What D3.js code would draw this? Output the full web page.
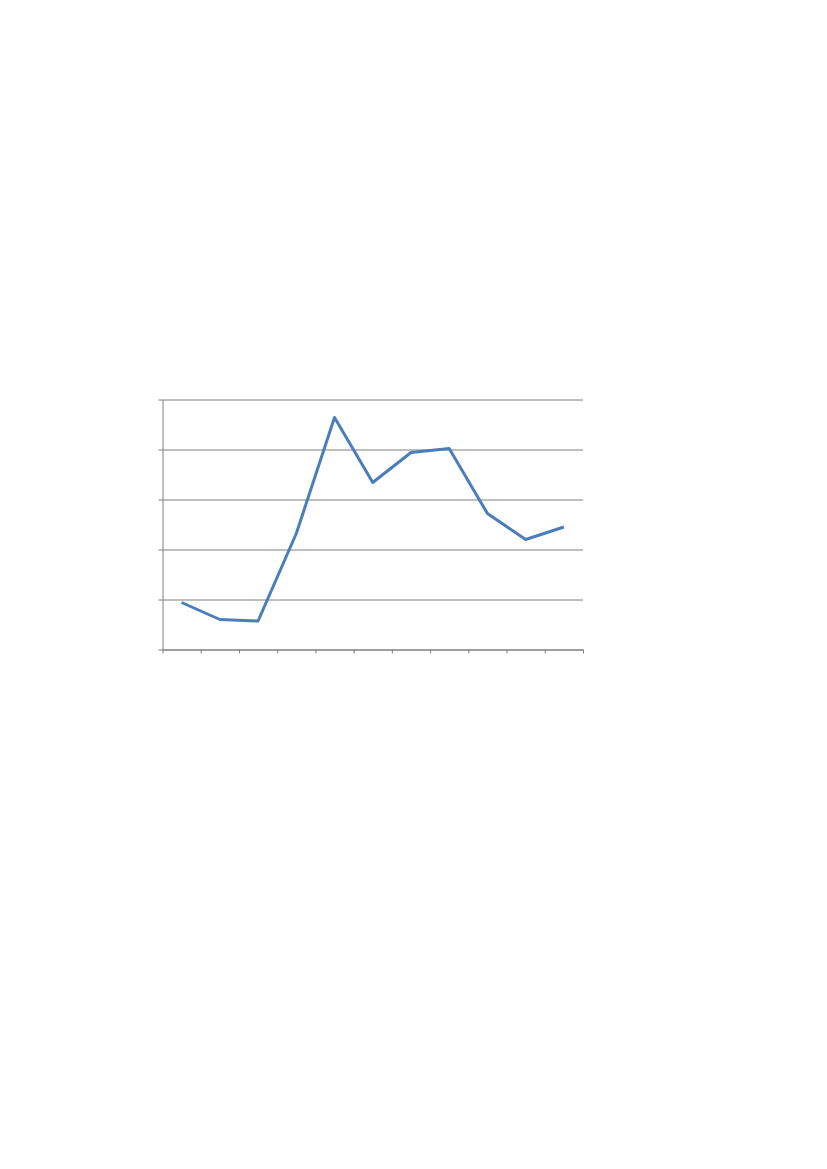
<!DOCTYPE html>
<html>
<head>
<meta charset="utf-8">
<script src="https://cdn.jsdelivr.net/npm/d3@7"></script>
<style>
  body { margin: 0; background: #fff; }
  svg { display: block; }
</style>
</head>
<body>
<div id="chart"></div>
<script>
// series, one point per category (no labels shown on the chart)
var categories = [1, 2, 3, 4, 5, 6, 7, 8, 9, 10, 11];
var values = [0.94, 0.60, 0.57, 2.32, 4.64, 3.34, 3.94, 4.02, 2.72, 2.20, 2.45];
var yTicks = [0, 1, 2, 3, 4, 5];

// note: "top" is window.top in a browser, so use plot* names
var pageW = 827, pageH = 1169,
    plotLeft = 162.5, plotTop = 399.5,
    plotW = 420.5, plotH = 250;

var svg = d3.select("#chart").append("svg")
    .attr("width", pageW)
    .attr("height", pageH);

var x = d3.scaleLinear()
    .domain([0, categories.length])
    .range([plotLeft, plotLeft + plotW]);

var y = d3.scaleLinear()
    .domain([0, 5])
    .range([plotTop + plotH, plotTop]);

// horizontal gridlines
svg.append("g")
    .attr("transform", "translate(" + plotLeft + ",0)")
    .call(d3.axisLeft(y).tickValues(yTicks).tickSize(-plotW).tickFormat(""))
    .call(function(g) {
      g.select(".domain").remove();
      g.selectAll("line").attr("stroke", "#7f7f7f").attr("stroke-width", 1);
    });

// value axis
svg.append("g")
    .attr("transform", "translate(" + plotLeft + ",0)")
    .call(d3.axisLeft(y).tickValues(yTicks).tickSize(4).tickSizeOuter(0).tickFormat(""))
    .call(function(g) {
      g.selectAll("path, line").attr("stroke", "#7f7f7f");
    });

// category axis, ticks between categories
svg.append("g")
    .attr("transform", "translate(0," + (plotTop + plotH) + ")")
    .call(d3.axisBottom(x).tickValues(d3.range(0, categories.length + 1)).tickSize(4).tickSizeOuter(0).tickFormat(""))
    .call(function(g) {
      g.selectAll("path, line").attr("stroke", "#7f7f7f");
    });

var line = d3.line()
    .x(function(d, i) { return x(i + 0.5); })
    .y(function(d) { return y(d); });

svg.append("path")
    .datum(values)
    .attr("d", line)
    .attr("fill", "none")
    .attr("stroke", "#4a7ebb")
    .attr("stroke-width", 3)
    .attr("stroke-linejoin", "round");
</script>
</body>
</html>
